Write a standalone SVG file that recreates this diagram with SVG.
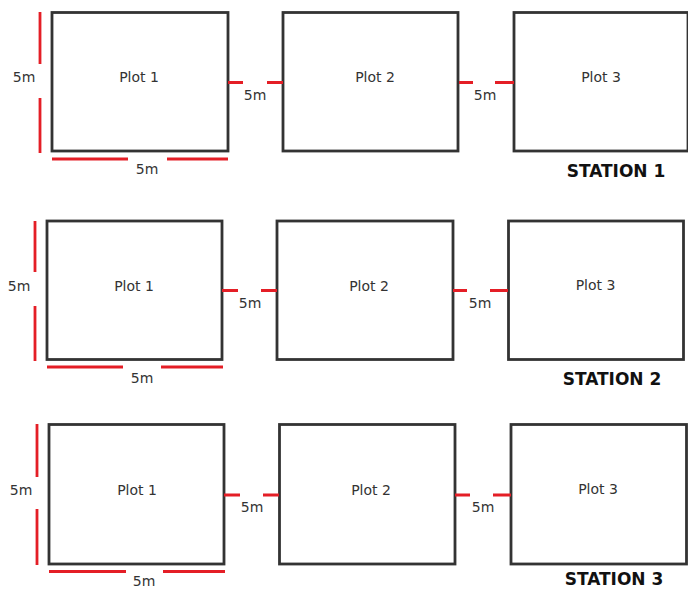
<svg xmlns="http://www.w3.org/2000/svg" width="688" height="590" viewBox="0 0 688 590">
<style>
.plot{fill:#fff;stroke:#333;stroke-width:2.8}
.dim{stroke:#e41e26;stroke-width:2.8;fill:none}
.lbl{font-family:"DejaVu Sans",Verdana,sans-serif;font-size:14px;fill:#333;text-anchor:middle}
.st{font-family:"DejaVu Sans",Verdana,sans-serif;font-size:17px;font-weight:bold;fill:#111;text-anchor:middle}
</style>
<rect width="688" height="590" fill="#fff"/>
<!-- Station 1 -->
<g id="s1-plot1"><rect class="plot" x="52" y="12.5" width="176" height="138.5"/><text class="lbl" x="139" y="82">Plot 1</text></g>
<g id="s1-plot2"><rect class="plot" x="283" y="12.5" width="175" height="138.5"/><text class="lbl" x="375" y="82">Plot 2</text></g>
<g id="s1-plot3"><rect class="plot" x="514" y="12.5" width="174" height="138.5"/><text class="lbl" x="601" y="82">Plot 3</text></g>
<g id="s1-title"><text class="st" x="616" y="177">STATION 1</text></g>
<!-- Station 2 -->
<g id="s2-plot1"><rect class="plot" x="47" y="221" width="175" height="138.5"/><text class="lbl" x="134" y="291">Plot 1</text></g>
<g id="s2-plot2"><rect class="plot" x="277" y="221" width="176" height="138.5"/><text class="lbl" x="369" y="291">Plot 2</text></g>
<g id="s2-plot3"><rect class="plot" x="508.5" y="221" width="175" height="138.5"/><text class="lbl" x="595.5" y="290">Plot 3</text></g>
<g id="s2-title"><text class="st" x="612" y="385">STATION 2</text></g>
<!-- Station 3 -->
<g id="s3-plot1"><rect class="plot" x="49" y="424.5" width="175" height="139.5"/><text class="lbl" x="137" y="494.5">Plot 1</text></g>
<g id="s3-plot2"><rect class="plot" x="279.5" y="424.5" width="175.5" height="139.5"/><text class="lbl" x="371" y="494.5">Plot 2</text></g>
<g id="s3-plot3"><rect class="plot" x="511" y="424.5" width="175.5" height="139.5"/><text class="lbl" x="598" y="494">Plot 3</text></g>
<g id="s3-title"><text class="st" x="614" y="585">STATION 3</text></g>
<g id="connectors">
<!-- Station 1 -->
<path class="dim" d="M40 12V64M40 98V153"/>
<text class="lbl" x="24" y="82">5m</text>
<path class="dim" d="M52 159H128M167 159H228"/>
<text class="lbl" x="147" y="174">5m</text>
<path class="dim" d="M228 82.5H243M267 82.5H283"/>
<text class="lbl" x="255" y="100">5m</text>
<path class="dim" d="M459 82.5H473M495 82.5H514"/>
<text class="lbl" x="485" y="100">5m</text>
<!-- Station 2 -->
<path class="dim" d="M35 221V272M35 306V361"/>
<text class="lbl" x="19" y="291">5m</text>
<path class="dim" d="M47 367H123M161 367H223"/>
<text class="lbl" x="142" y="383">5m</text>
<path class="dim" d="M222 290.5H238M261 290.5H277"/>
<text class="lbl" x="250" y="308">5m</text>
<path class="dim" d="M453 290.5H467M490 290.5H508"/>
<text class="lbl" x="480" y="308">5m</text>
<!-- Station 3 -->
<path class="dim" d="M37 424V477M37 509V565"/>
<text class="lbl" x="21" y="495">5m</text>
<path class="dim" d="M49 571.5H126M163 571.5H225"/>
<text class="lbl" x="144" y="586">5m</text>
<path class="dim" d="M224 495H240M263 495H279"/>
<text class="lbl" x="252" y="512">5m</text>
<path class="dim" d="M455 495H470M493 495H511"/>
<text class="lbl" x="483" y="512">5m</text>
</g>
</svg>
